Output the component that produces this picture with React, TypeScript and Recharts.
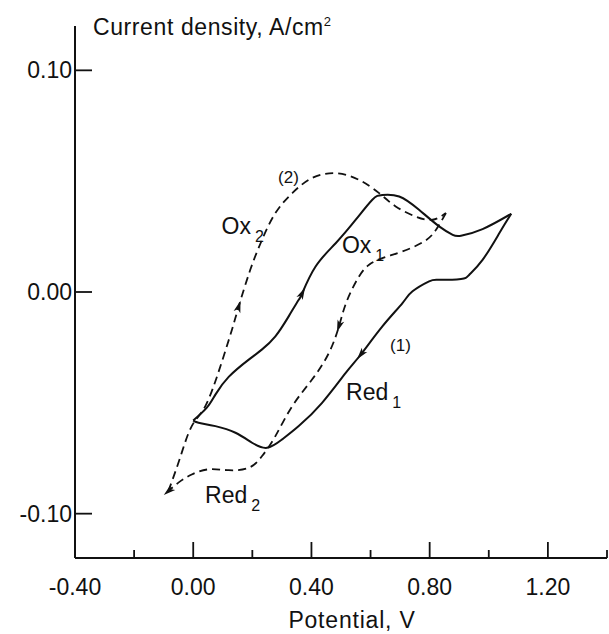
import React from 'react';
import { LineChart, Line, XAxis, YAxis, ReferenceDot } from 'recharts';

type Pt = { E: number; j: number; arrow?: boolean };

// Tick values and labels
const xTicks = [-0.4, -0.2, 0, 0.2, 0.4, 0.6, 0.8, 1.0, 1.2, 1.4];
const xMajor = [0, 0.4, 0.8, 1.2];
const xLabelled = [-0.4, 0, 0.4, 0.8, 1.2];
const yTicks = [-0.1, 0, 0.1];

// Curve (1), solid: anodic sweep (lower-left corner -> upper branch -> right vertex)
const solidAnodic: Pt[] = [
  { E: 0.0, j: -0.058 }, { E: 0.046, j: -0.0522 }, { E: 0.075, j: -0.0463 },
  { E: 0.12, j: -0.0383 }, { E: 0.188, j: -0.0305 }, { E: 0.232, j: -0.026 },
  { E: 0.278, j: -0.02 }, { E: 0.323, j: -0.011 }, { E: 0.357, j: -0.0035 },
  { E: 0.369, j: -0.0005, arrow: true }, { E: 0.414, j: 0.0115 }, { E: 0.482, j: 0.022 },
  { E: 0.55, j: 0.0326 }, { E: 0.606, j: 0.0416 }, { E: 0.64, j: 0.0438 },
  { E: 0.697, j: 0.0431 }, { E: 0.764, j: 0.0371 }, { E: 0.832, j: 0.0296 },
  { E: 0.878, j: 0.0258 }, { E: 0.906, j: 0.0254 }, { E: 0.979, j: 0.0284 },
  { E: 1.076, j: 0.0353 },
];

// Curve (1), solid: cathodic sweep (right vertex -> lower branch -> lower-left corner)
const solidCathodic: Pt[] = [
  { E: 1.076, j: 0.0353 }, { E: 1.036, j: 0.0266 }, { E: 0.979, j: 0.0145 },
  { E: 0.934, j: 0.0078 }, { E: 0.906, j: 0.0059 }, { E: 0.832, j: 0.0055 },
  { E: 0.798, j: 0.0048 }, { E: 0.742, j: 0.0003 }, { E: 0.708, j: -0.005 },
  { E: 0.64, j: -0.0155 }, { E: 0.567, j: -0.0282, arrow: true }, { E: 0.516, j: -0.0365 },
  { E: 0.436, j: -0.05 }, { E: 0.357, j: -0.0605 }, { E: 0.301, j: -0.0665 },
  { E: 0.25, j: -0.0703 }, { E: 0.199, j: -0.068 }, { E: 0.143, j: -0.0635 },
  { E: 0.075, j: -0.0605 }, { E: 0.018, j: -0.059 }, { E: 0.0, j: -0.058 },
];

// Curve (2), dashed: anodic sweep
const dashedAnodic: Pt[] = [
  { E: -0.084, j: -0.0898 }, { E: -0.045, j: -0.075 }, { E: -0.005, j: -0.0605 },
  { E: 0.041, j: -0.0515 }, { E: 0.092, j: -0.0335 }, { E: 0.131, j: -0.017 },
  { E: 0.154, j: -0.0065, arrow: true }, { E: 0.193, j: 0.01 }, { E: 0.233, j: 0.0236 },
  { E: 0.278, j: 0.0356 }, { E: 0.335, j: 0.0446 }, { E: 0.402, j: 0.0514 },
  { E: 0.482, j: 0.0536 }, { E: 0.561, j: 0.0506 }, { E: 0.629, j: 0.0446 },
  { E: 0.685, j: 0.0386 }, { E: 0.753, j: 0.034 }, { E: 0.81, j: 0.0326 },
  { E: 0.855, j: 0.0356 },
];

// Curve (2), dashed: cathodic sweep
const dashedCathodic: Pt[] = [
  { E: 0.855, j: 0.0356 }, { E: 0.821, j: 0.028 }, { E: 0.781, j: 0.0228 },
  { E: 0.708, j: 0.0183 }, { E: 0.64, j: 0.0153 }, { E: 0.595, j: 0.0123 },
  { E: 0.561, j: 0.007 }, { E: 0.52, j: -0.004 }, { E: 0.493, j: -0.0155, arrow: true },
  { E: 0.459, j: -0.0275 }, { E: 0.402, j: -0.0395 }, { E: 0.335, j: -0.0515 },
  { E: 0.278, j: -0.065 }, { E: 0.233, j: -0.074 }, { E: 0.188, j: -0.0793 },
  { E: 0.12, j: -0.0804 }, { E: 0.052, j: -0.08 }, { E: -0.005, j: -0.0823 },
  { E: -0.05, j: -0.086 }, { E: -0.084, j: -0.0898, arrow: true },
];

// Annotations: [text, subscript, E, j, font size]
const annotations: [string, string, number, number, number][] = [
  ['Ox', '2', 0.096, 0.0262, 23],
  ['Ox', '1', 0.503, 0.0177, 23],
  ['Red', '1', 0.517, -0.0487, 23],
  ['Red', '2', 0.04, -0.0952, 23],
  ['(2)', '', 0.287, 0.0492, 17],
  ['(1)', '', 0.666, -0.0266, 17],
];

const W = 609;
const H = 634;
const M = { top: 26, right: 2, bottom: 75, left: 74 };
const X_DOMAIN: [number, number] = [-0.4, 1.4];
const Y_DOMAIN: [number, number] = [-0.12, 0.12];
const PLOT_W = W - M.left - 1 - M.right;
const PLOT_H = H - M.top - M.bottom - 1;
const KX = PLOT_W / (X_DOMAIN[1] - X_DOMAIN[0]);
const KY = PLOT_H / (Y_DOMAIN[1] - Y_DOMAIN[0]);

const FONT = '"Liberation Sans", Arial, Helvetica, sans-serif';
const INK = '#111';

const makeArrow = (data: Pt[]) => (props: any) => {
  const { cx, cy, index } = props;
  const p = data[index];
  if (!p || !p.arrow || cx == null || cy == null) return <g key={`n${index}`} />;
  const prev = data[Math.max(0, index - 1)];
  const next = data[Math.min(data.length - 1, index + 1)];
  const dx = (next.E - prev.E) * KX;
  const dy = -(next.j - prev.j) * KY;
  const ang = (Math.atan2(dy, dx) * 180) / Math.PI;
  return (
    <path
      key={`a${index}`}
      d="M6,0 L-6,-3.5 L-3,0 L-6,3.5 Z"
      transform={`translate(${cx},${cy}) rotate(${ang})`}
      fill={INK}
      stroke="none"
    />
  );
};

const XTick = (props: any) => {
  const { x, y, payload } = props;
  const v = Math.round(payload.value * 10) / 10;
  const isMajor = xMajor.some((m) => Math.abs(m - v) < 1e-6);
  const hasLabel = xLabelled.some((m) => Math.abs(m - v) < 1e-6);
  const len = v <= -0.4 + 1e-6 ? 0 : isMajor ? 16 : 8;
  return (
    <g>
      {len > 0 && <line x1={x} y1={y} x2={x} y2={y - len} stroke={INK} strokeWidth={1.8} />}
      {hasLabel && (
        <text x={x} y={y + 37} textAnchor="middle" fontFamily={FONT} fontSize={23} fill={INK}>
          {v.toFixed(2)}
        </text>
      )}
    </g>
  );
};

const YTick = (props: any) => {
  const { x, y, payload } = props;
  const v = payload.value;
  return (
    <g>
      <line x1={x} y1={y} x2={x + 17} y2={y} stroke={INK} strokeWidth={1.8} />
      <text x={x - 3} y={y + 8} textAnchor="end" fontFamily={FONT} fontSize={23} fill={INK}>
        {v.toFixed(2)}
      </text>
    </g>
  );
};

const annotationLabel = (main: string, sub: string, size: number) => (p: any) => {
  const vb = p.viewBox || {};
  const x = (vb.x || 0) + (vb.width || 0) / 2;
  const y = (vb.y || 0) + (vb.height || 0) / 2;
  return (
    <text x={x} y={y} fontFamily={FONT} fontSize={size} fill={INK}>
      {main}
      {sub && (
        <tspan dx={4} dy={8} fontSize={16}>
          {sub}
        </tspan>
      )}
    </text>
  );
};

const yTitle = (p: any) => {
  const vb = p.viewBox || { x: 74, y: 26 };
  return (
    <text x={vb.x + 19} y={vb.y + 9} fontFamily={FONT} fontSize={23} letterSpacing={0.6} fill={INK}>
      Current density, A/cm
      <tspan dy={-9} fontSize={13}>2</tspan>
    </text>
  );
};

const xTitle = (p: any) => {
  const vb = p.viewBox || { x: 75, y: 558 };
  return (
    <text x={vb.x + 277} y={vb.y + 70} textAnchor="middle" fontFamily={FONT} fontSize={23} letterSpacing={0.8} fill={INK}>
      Potential, V
    </text>
  );
};

export default function App() {
  return (
    <div style={{ position: 'absolute', left: 0, top: 0, width: W, height: H, background: '#fff' }}>
      <LineChart width={W} height={H} margin={M}>
        <XAxis
          type="number"
          dataKey="E"
          domain={X_DOMAIN}
          ticks={xTicks}
          interval={0}
          height={1}
          tickSize={0}
          tickMargin={0}
          tickLine={false}
          axisLine={{ stroke: INK, strokeWidth: 2 }}
          tick={<XTick />}
          allowDataOverflow
          label={xTitle}
        />
        <YAxis
          type="number"
          domain={Y_DOMAIN}
          ticks={yTicks}
          interval={0}
          width={1}
          tickSize={0}
          tickMargin={0}
          tickLine={false}
          axisLine={{ stroke: INK, strokeWidth: 2 }}
          tick={<YTick />}
          allowDataOverflow
          label={yTitle}
        />
        <Line data={solidAnodic} dataKey="j" type="natural" stroke={INK} strokeWidth={2}
          dot={makeArrow(solidAnodic)} activeDot={false} isAnimationActive={false} />
        <Line data={solidCathodic} dataKey="j" type="natural" stroke={INK} strokeWidth={2}
          dot={makeArrow(solidCathodic)} activeDot={false} isAnimationActive={false} />
        <Line data={dashedAnodic} dataKey="j" type="natural" stroke={INK} strokeWidth={1.8}
          strokeDasharray="8 5" dot={makeArrow(dashedAnodic)} activeDot={false} isAnimationActive={false} />
        <Line data={dashedCathodic} dataKey="j" type="natural" stroke={INK} strokeWidth={1.8}
          strokeDasharray="8 5" dot={makeArrow(dashedCathodic)} activeDot={false} isAnimationActive={false} />
        {annotations.map(([main, sub, E, j, size]) => (
          <ReferenceDot
            key={`${main}${sub}${E}`}
            x={E}
            y={j}
            r={0}
            fill="none"
            stroke="none"
            ifOverflow="visible"
            label={annotationLabel(main, sub, size)}
          />
        ))}
      </LineChart>
    </div>
  );
}
